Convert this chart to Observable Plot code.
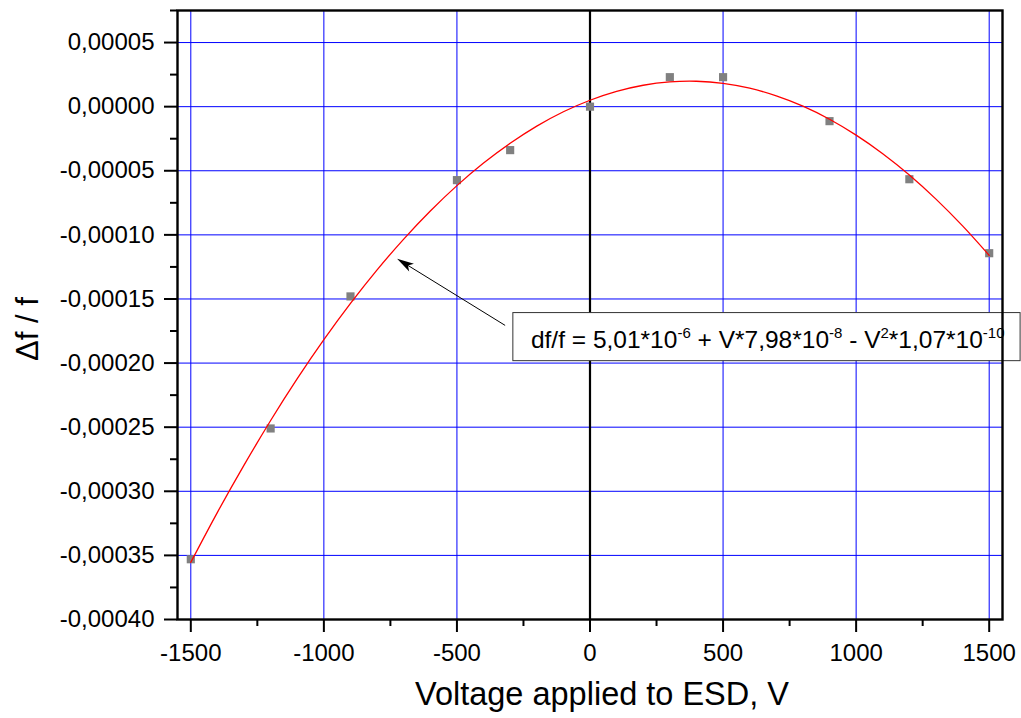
<!DOCTYPE html>
<html>
<head>
<meta charset="utf-8">
<script src="https://cdn.jsdelivr.net/npm/d3@7"></script>
<script src="https://cdn.jsdelivr.net/npm/@observablehq/plot@0.6"></script>
<style>
  html, body { margin: 0; padding: 0; background: #fff; }
  #chart { width: 1021px; height: 718px; }
</style>
</head>
<body>
<div id="chart"></div>
<script>
// Measured points
const voltage = [-1500, -1200, -900, -500, -300, 0, 300, 500, 900, 1200, 1500];
const dff = [-0.000353, -0.000251, -0.000148, -0.0000573, -0.0000339, 0, 0.000023, 0.000023, -0.0000113, -0.0000566, -0.0001143];

// Fit curve (values in units of 1e-6)
const fitV = [-1500, -1400, -1300, -1200, -1100, -1000, -900, -800, -700, -600, -500, -400, -300, -200, -100, 0, 100, 200, 300, 400, 500, 600, 700, 800, 900, 1000, 1100, 1200, 1300, 1400, 1500];
const fitMicro = [-355.4, -316.4, -279.6, -244.8, -212.2, -181.8, -153.5, -127.3, -103.3, -81.4, -61.6, -44.0, -28.6, -15.2, -4.0, 5.0, 11.9, 16.7, 19.3, 19.8, 18.2, 14.4, 8.4, 0.4, -9.8, -22.2, -36.7, -53.3, -72.1, -93.0, -116.0];

// Ticks
const xTicks = [-1500, -1000, -500, 0, 500, 1000, 1500];
const xMinor = [-1250, -750, -250, 250, 750, 1250];
const xGrid = [-1500, -1000, -500, 500, 1000, 1500];
const yTicks = [0.00005, 0, -0.00005, -0.0001, -0.00015, -0.0002, -0.00025, -0.0003, -0.00035, -0.0004];
const yMinor = [0.000075, 0.000025, -0.000025, -0.000075, -0.000125, -0.000175, -0.000225, -0.000275, -0.000325, -0.000375];
const yGrid = [0.00005, 0, -0.00005, -0.0001, -0.00015, -0.0002, -0.00025, -0.0003, -0.00035];

// Labels
const xLabel = ["Voltage applied to ESD, V"];
const yLabel = ["\u0394f / f"];
const noteParts = [
  ["df/f = 5,01*10", false], ["-6", true],
  [" + V*7,98*10", false], ["-8", true],
  [" - V", false], ["2", true],
  ["*1,07*10", false], ["-10", true]
];
// annotation anchors in data coordinates
const noteBox = {x1: -288, x2: 1618, y1: -0.000161, y2: -0.0001985};
const noteText = {x: -220, y: -0.0001885};
const arrowFrom = {x: -317, y: -0.000171};
const arrowTo = {x: -723, y: -0.000119};

const points = voltage.map((v, i) => ({v, d: dff[i]}));
const fit = fitV.map((v, i) => ({v, d: fitMicro[i] * 1e-6}));

const fmtY = d => (d < -1e-12 ? "-" : "") + Math.abs(d).toFixed(5).replace(".", ",");
const fmtX = d => String(d);

function annotation(index, scales) {
  const {x, y} = scales;
  const g = d3.create("svg:g");
  const bx1 = x(noteBox.x1), bx2 = x(noteBox.x2), by1 = y(noteBox.y1), by2 = y(noteBox.y2);
  // arrow
  const tx = x(arrowTo.x), ty = y(arrowTo.y), sx = x(arrowFrom.x), sy = y(arrowFrom.y);
  const len = Math.hypot(tx - sx, ty - sy);
  const ux = (tx - sx) / len, uy = (ty - sy) / len;
  const nx = -uy, ny = ux;
  const hl = 17, hw = 4.5;
  g.append("line").attr("x1", sx).attr("y1", sy)
    .attr("x2", tx - ux * 10).attr("y2", ty - uy * 10)
    .attr("stroke", "black").attr("stroke-width", 1);
  g.append("path")
    .attr("d", `M${tx},${ty}L${tx - ux*hl + nx*hw},${ty - uy*hl + ny*hw}L${tx - ux*hl*0.75},${ty - uy*hl*0.75}L${tx - ux*hl - nx*hw},${ty - uy*hl - ny*hw}Z`)
    .attr("fill", "black");
  g.append("rect")
    .attr("x", Math.min(bx1, bx2)).attr("y", Math.min(by1, by2))
    .attr("width", Math.abs(bx2 - bx1)).attr("height", Math.abs(by2 - by1))
    .attr("fill", "white").attr("stroke", "#333").attr("stroke-width", 1);
  const t = g.append("text")
    .attr("x", x(noteText.x)).attr("y", y(noteText.y))
    .attr("text-anchor", "start")
    .attr("font-size", 24.5).attr("fill", "black")
    .attr("font-family", "'Liberation Sans', Arial, sans-serif");
  let raised = false;
  for (const [s, sup] of noteParts) {
    const ts = t.append("tspan").text(s);
    if (sup && !raised) { ts.attr("dy", -10).attr("font-size", 15); raised = true; }
    else if (sup) { ts.attr("font-size", 15); }
    else if (!sup && raised) { ts.attr("dy", 10); raised = false; }
  }
  return g.node();
}

const chart = Plot.plot({
  width: 1021,
  height: 718,
  marginLeft: 177,
  marginRight: 19,
  marginTop: 10,
  marginBottom: 99,
  style: {fontFamily: "'Liberation Sans', Arial, sans-serif", fontSize: "24px", color: "black", background: "white", overflow: "visible"},
  x: {domain: [-1550, 1550]},
  y: {domain: [-0.0004, 0.000075]},
  marks: [
    Plot.gridX({ticks: xGrid, stroke: "#0000ff", strokeOpacity: 1, strokeWidth: 1}),
    Plot.gridY({ticks: yGrid, stroke: "#0000ff", strokeOpacity: 1, strokeWidth: 1}),
    Plot.ruleX([0], {stroke: "black", strokeWidth: 2.2}),
    annotation,
    Plot.dot(points, {x: "v", y: "d", symbol: "square", r: 4.6, fill: "#808080", stroke: "none"}),
    Plot.line(fit, {x: "v", y: "d", stroke: "#ff0000", strokeWidth: 1.3, curve: "catmull-rom"}),
    Plot.frame({stroke: "black", strokeWidth: 2.4}),
    Plot.axisY({ticks: yTicks, tickSize: 13, tickPadding: 10, tickFormat: fmtY, strokeWidth: 2, fontSize: 24, label: null}),
    Plot.axisY({ticks: yMinor, tickSize: 7, tickFormat: () => "", strokeWidth: 2, label: null}),
    Plot.axisX({ticks: xTicks, tickSize: 13, tickPadding: 11, tickFormat: fmtX, strokeWidth: 2, fontSize: 24, label: null}),
    Plot.axisX({ticks: xMinor, tickSize: 7, tickFormat: () => "", strokeWidth: 2, label: null}),
    Plot.text(xLabel, {text: d => d, frameAnchor: "bottom", dx: 12, dy: 85, fontSize: 32.5}),
    Plot.text(yLabel, {text: d => d, frameAnchor: "left", rotate: -90, dx: -149, dy: 46, fontSize: 31})
  ]
});
document.getElementById("chart").appendChild(chart);
</script>
</body>
</html>
